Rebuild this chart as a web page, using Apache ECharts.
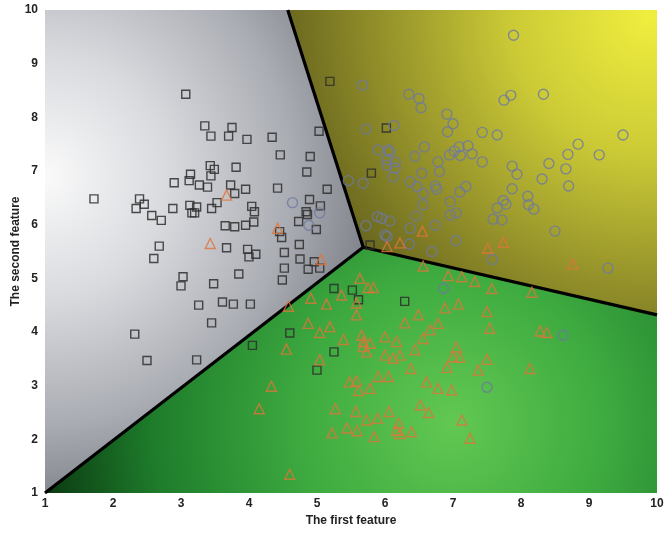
<!DOCTYPE html>
<html>
<head>
<meta charset="utf-8">
<script src="https://cdn.jsdelivr.net/npm/echarts@6/dist/echarts.min.js"></script>
<style>
  html, body { margin: 0; padding: 0; background: #fff; }
  #chart { width: 667px; height: 535px; }
</style>
</head>
<body>
<div id="chart"></div>
<script>
// decision boundary points (data coords)
const centre = [5.68, 5.58]
const topEdge = [4.57, 10]
const rightEdge = [10, 4.32]
const cornerLL = [1, 1]

const grayRegion = [cornerLL, centre, topEdge, [1, 10]]
const yellowRegion = [topEdge, centre, rightEdge, [10, 10]]
const greenRegion = [cornerLL, [10, 1], rightEdge, centre]

// class 1: squares
const squares = [
  [1.72, 6.48], [3.07, 8.43], [3.35, 7.84], [3.75, 7.81], [3.44, 7.65], [3.70, 7.65],
  [3.43, 7.10], [3.49, 7.03], [3.81, 7.07], [3.44, 6.91], [3.14, 6.94], [3.12, 6.82],
  [2.90, 6.78], [3.27, 6.74], [3.39, 6.70], [3.73, 6.74], [3.79, 6.58], [2.39, 6.48],
  [2.46, 6.38], [2.34, 6.30], [2.88, 6.30], [3.13, 6.36], [3.23, 6.33], [3.16, 6.22],
  [3.20, 6.22], [3.45, 6.30], [3.53, 6.41], [2.57, 6.17], [2.71, 6.08], [3.65, 5.98],
  [3.79, 5.96], [2.68, 5.60], [3.67, 5.57], [2.60, 5.37], [3.03, 5.03], [3.00, 4.86],
  [3.48, 4.90], [3.85, 5.08], [3.26, 4.50], [3.61, 4.56], [3.77, 4.52], [3.45, 4.17],
  [2.32, 3.96], [2.50, 3.47], [3.23, 3.48], [5.19, 8.67], [3.97, 7.59], [4.34, 7.63],
  [5.03, 7.74], [6.02, 7.80], [4.46, 7.30], [4.90, 7.27], [4.85, 6.98], [5.80, 6.96],
  [4.42, 6.68], [5.15, 6.66], [3.95, 6.66], [4.89, 6.47], [5.05, 6.35], [4.04, 6.34],
  [4.08, 6.24], [4.84, 6.24], [4.86, 6.19], [3.95, 5.99], [4.07, 6.05], [4.73, 6.06],
  [4.99, 5.91], [4.45, 5.87], [4.48, 5.76], [4.74, 5.63], [3.98, 5.54], [4.00, 5.40],
  [4.10, 5.45], [4.52, 5.48], [4.75, 5.36], [4.96, 5.31], [4.87, 5.17], [5.04, 5.19],
  [4.52, 5.19], [4.49, 4.97], [4.02, 4.52], [5.78, 5.62], [5.25, 4.81], [5.52, 4.78],
  [5.61, 4.60], [6.29, 4.57], [4.60, 3.98], [4.05, 3.75], [5.25, 3.63], [5.00, 3.29]
]

// class 2: circles
const circles = [
  [7.89, 9.53], [6.35, 8.43], [6.50, 8.35], [6.53, 8.18], [7.85, 8.41], [7.75, 8.32],
  [6.91, 8.06], [7.00, 7.88], [6.92, 7.73], [7.43, 7.72], [7.65, 7.67], [6.13, 7.85],
  [6.58, 7.45], [7.09, 7.45], [7.22, 7.47], [7.02, 7.37], [6.95, 7.30], [7.11, 7.29],
  [7.28, 7.32], [6.44, 7.27], [6.78, 7.17], [7.43, 7.17], [7.87, 7.09], [6.07, 7.36],
  [6.15, 7.17], [6.03, 7.11], [8.33, 8.43], [9.50, 7.67], [8.84, 7.50], [8.69, 7.31],
  [9.15, 7.30], [8.41, 7.14], [8.66, 7.04], [6.15, 7.05], [6.54, 6.96], [6.80, 6.99],
  [6.37, 6.80], [6.47, 6.71], [6.74, 6.72], [6.76, 6.66], [6.56, 6.58], [7.10, 6.61],
  [7.19, 6.71], [7.94, 6.94], [7.87, 6.67], [6.56, 6.37], [6.96, 6.43], [7.74, 6.45],
  [7.78, 6.38], [7.65, 6.31], [6.96, 6.18], [7.05, 6.22], [7.59, 6.10], [7.72, 6.09],
  [8.10, 6.53], [8.11, 6.37], [6.07, 6.07], [5.95, 6.12], [6.46, 6.16], [6.74, 5.99],
  [6.37, 5.93], [6.03, 5.78], [6.36, 5.64], [7.04, 5.70], [6.69, 5.50], [7.58, 5.35],
  [8.31, 6.85], [8.70, 6.72], [8.19, 6.29], [8.50, 5.88], [9.28, 5.19], [5.67, 8.60],
  [5.72, 7.78], [5.90, 7.39], [6.05, 7.39], [6.03, 7.21], [6.12, 6.89], [5.46, 6.82],
  [5.68, 6.77], [4.64, 6.41], [5.89, 6.15], [5.72, 5.98], [6.00, 5.81], [4.88, 5.99],
  [5.04, 6.22], [6.86, 4.81], [7.50, 2.97], [8.62, 3.94]
]

// class 3: triangles
const triangles = [
  [3.43, 5.65], [4.42, 5.93], [5.06, 5.35], [3.67, 6.55], [4.58, 4.48], [4.91, 4.63],
  [5.14, 4.52], [5.36, 4.69], [5.63, 5.00], [5.75, 4.83], [5.83, 4.83], [5.58, 4.54],
  [5.58, 4.32], [4.87, 4.16], [5.19, 4.10], [5.04, 3.99], [5.39, 3.86], [5.66, 3.94],
  [5.68, 3.82], [5.78, 3.79], [6.00, 3.91], [4.55, 3.68], [6.03, 5.59], [6.17, 3.82],
  [5.73, 3.63], [6.00, 3.57], [5.04, 3.48], [6.12, 3.51], [5.48, 3.07], [5.58, 3.09],
  [5.61, 2.91], [5.78, 2.95], [5.90, 3.17], [6.05, 3.17], [4.33, 2.99], [4.15, 2.57],
  [5.27, 2.57], [5.57, 2.52], [6.06, 2.52], [5.73, 2.36], [5.89, 2.39], [5.44, 2.21],
  [5.59, 2.16], [5.22, 2.12], [5.84, 2.05], [6.17, 2.17], [4.60, 1.35], [6.56, 5.23],
  [6.93, 5.05], [7.13, 5.03], [7.32, 4.94], [7.57, 4.81], [8.16, 4.74], [6.88, 4.45],
  [7.08, 4.52], [7.50, 4.38], [6.49, 4.32], [6.29, 4.17], [7.54, 4.07], [6.66, 4.04],
  [6.78, 4.16], [6.56, 3.88], [8.28, 4.02], [8.38, 3.99], [7.05, 3.72], [6.44, 3.67],
  [6.22, 3.57], [7.00, 3.54], [7.10, 3.53], [7.50, 3.49], [6.38, 3.32], [6.91, 3.34],
  [7.37, 3.29], [8.13, 3.32], [6.61, 3.07], [6.78, 2.95], [6.98, 2.92], [6.52, 2.64],
  [6.64, 2.50], [7.13, 2.36], [6.20, 2.30], [6.39, 2.14], [6.22, 2.11], [7.25, 2.02],
  [7.51, 5.56], [7.74, 5.67], [6.55, 5.88], [6.22, 5.66], [8.76, 5.27], [5.68, 3.73]
]

const ticks = [1, 2, 3, 4, 5, 6, 7, 8, 9, 10]

const regions = [
  { pts: grayRegion, focus: [1.0, 6.9], radius: 350,
    stops: ['#fafafa', '#d8dade', '#abadb4', '#76787f'] },
  { pts: yellowRegion, focus: [9.9, 9.9], radius: 390,
    stops: ['#f0ee3e', '#cccb36', '#928f2a', '#5f5d1c'] },
  { pts: greenRegion, focus: [7.0, 2.3], radius: 430,
    stops: ['#62c852', '#3eab40', '#1e7c2b', '#08300e'] }
]

var myChart = echarts.init(document.getElementById('chart'))

function renderRegion(params, api) {
  const reg = regions[api.value(0)]
  const points = reg.pts.map(p => api.coord(p))
  const f = api.coord(reg.focus)
  return {
    type: 'polygon',
    shape: { points: points },
    style: {
      fill: {
        type: 'radial', x: f[0], y: f[1], r: reg.radius, global: true,
        colorStops: [
          { offset: 0, color: reg.stops[0] },
          { offset: 0.35, color: reg.stops[1] },
          { offset: 0.7, color: reg.stops[2] },
          { offset: 1, color: reg.stops[3] }
        ]
      },
      stroke: null
    }
  }
}

function boundary(a, b) {
  return {
    type: 'line',
    data: [a, b],
    symbol: 'none',
    silent: true,
    z: 3,
    lineStyle: { color: '#000', width: 3.2 }
  }
}

const labelFont = { fontFamily: 'Liberation Sans, Arial', fontSize: 12, fontWeight: 'bold', color: '#222' }

var option = {
  animation: false,
  backgroundColor: '#fff',
  grid: { left: 45, right: 10, top: 10, bottom: 42, containLabel: false, outerBoundsMode: 'none' },
  xAxis: {
    type: 'value', min: 1, max: 10, interval: 1,
    name: 'The first feature', nameLocation: 'middle', nameGap: 22,
    nameTextStyle: { fontFamily: 'Liberation Sans, Arial', fontSize: 12, fontWeight: 'bold', color: '#222' },
    axisLine: { show: false }, axisTick: { show: false }, splitLine: { show: false },
    axisLabel: Object.assign({ margin: 5, formatter: v => ticks.includes(v) ? String(v) : '' }, labelFont)
  },
  yAxis: {
    type: 'value', min: 1, max: 10, interval: 1,
    name: 'The second feature', nameLocation: 'middle', nameGap: 23, nameMoveOverlap: false,
    nameTextStyle: { fontFamily: 'Liberation Sans, Arial', fontSize: 12, fontWeight: 'bold', color: '#222' },
    axisLine: { show: false }, axisTick: { show: false }, splitLine: { show: false },
    axisLabel: Object.assign({ margin: 7, formatter: v => ticks.includes(v) ? String(v) : '' }, labelFont)
  },
  series: [
    {
      type: 'custom',
      renderItem: renderRegion,
      data: [[0], [1], [2]],
      silent: true,
      z: 1
    },
    boundary(topEdge, centre),
    boundary(centre, cornerLL),
    boundary(centre, rightEdge),
    {
      type: 'scatter', data: squares, symbol: 'rect', symbolSize: 8, z: 5,
      itemStyle: { color: 'rgba(0,0,0,0)', borderColor: '#2e2e2e', borderWidth: 1.4, opacity: 0.85 }
    },
    {
      type: 'scatter', data: circles, symbol: 'circle', symbolSize: 10, z: 5,
      itemStyle: { color: 'rgba(0,0,0,0)', borderColor: '#6e78a0', borderWidth: 1.4, opacity: 0.8 }
    },
    {
      type: 'scatter', data: triangles, symbol: 'triangle', symbolSize: 10, z: 5,
      itemStyle: { color: 'rgba(0,0,0,0)', borderColor: '#e0743a', borderWidth: 1.4, opacity: 0.8 }
    }
  ]
}

myChart.setOption(option)
window.addEventListener('resize', myChart.resize)
</script>
</body>
</html>
